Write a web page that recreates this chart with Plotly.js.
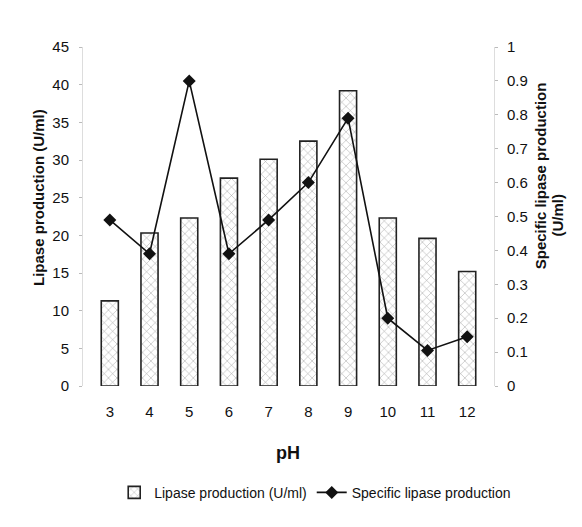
<!DOCTYPE html>
<html>
<head>
<meta charset="utf-8">
<script src="https://cdn.plot.ly/plotly-3.0.1.min.js"></script>
<style>html,body{margin:0;padding:0;background:#fff;}#chart{width:582px;height:527px;}</style>
</head>
<body>
<div id="chart"></div>
<script>
var phLabels = ["3","4","5","6","7","8","9","10","11","12"];
var lipaseProduction = [11.3, 20.3, 22.3, 27.6, 30.1, 32.5, 39.2, 22.3, 19.6, 15.2];
var specificProduction = [0.49, 0.39, 0.90, 0.39, 0.49, 0.60, 0.79, 0.20, 0.105, 0.145];
var leftTicks = [0,5,10,15,20,25,30,35,40,45];
var rightTicks = [0,0.1,0.2,0.3,0.4,0.5,0.6,0.7,0.8,0.9,1];

var fontFam = "Liberation Sans, Arial, sans-serif";

var traces = [
  {
    type: "bar",
    name: "Lipase production (U/ml)",
    x: phLabels,
    y: lipaseProduction,
    marker: {
      color: "#ffffff",
      line: {color: "#222", width: 1.6},
      pattern: {shape: "x", fgcolor: "#9a9a9a", bgcolor: "#ffffff", size: 6, solidity: 0.15}
    },
    yaxis: "y"
  },
  {
    type: "scatter",
    mode: "lines+markers",
    name: "Specific lipase production",
    x: phLabels,
    y: specificProduction,
    line: {color: "#111", width: 1.6},
    marker: {symbol: "diamond", size: 10, color: "#111"},
    yaxis: "y2"
  }
];

var layout = {
  width: 582,
  height: 527,
  margin: {l: 83, r: 88, t: 47, b: 141},
  paper_bgcolor: "#fff",
  plot_bgcolor: "#fff",
  font: {family: fontFam, size: 14, color: "#111"},
  bargap: 0.57,
  showlegend: true,
  legend: {
    orientation: "h",
    x: 0.565, xanchor: "center",
    y: -0.315, yanchor: "middle",
    font: {family: fontFam, size: 14, color: "#111"},
    itemwidth: 30,
    tracegroupgap: 0
  },
  xaxis: {
    type: "category",
    showgrid: false,
    zeroline: false,
    showline: false,
    ticks: "",
    tickfont: {family: fontFam, size: 15},
    ticklabelstandoff: 15,
    title: {text: ""}
  },
  yaxis: {
    range: [0, 45],
    tickvals: leftTicks,
    ticktext: leftTicks.map(String),
    showgrid: false,
    zeroline: false,
    showline: true,
    linecolor: "#dddddd",
    linewidth: 1,
    ticks: "outside",
    ticklen: 3,
    tickcolor: "#bbbbbb",
    tickfont: {family: fontFam, size: 15},
    ticklabelstandoff: 7
  },
  yaxis2: {
    range: [0, 1],
    overlaying: "y",
    side: "right",
    tickvals: rightTicks,
    ticktext: rightTicks.map(String),
    showgrid: false,
    zeroline: false,
    showline: true,
    linecolor: "#dddddd",
    linewidth: 1,
    ticks: "outside",
    ticklen: 3,
    tickcolor: "#bbbbbb",
    tickfont: {family: fontFam, size: 15},
    ticklabelstandoff: 6
  },
  annotations: [
    {
      text: "<b>Lipase production (U/ml)</b>",
      xref: "paper", yref: "paper",
      x: -0.11, y: 0.557, xanchor: "center", yanchor: "middle",
      textangle: -90, showarrow: false,
      font: {family: fontFam, size: 15, color: "#111"}
    },
    {
      text: "<b>Specific lipase production</b>",
      xref: "paper", yref: "paper",
      x: 1.113, y: 0.62, xanchor: "center", yanchor: "middle",
      textangle: -90, showarrow: false,
      font: {family: fontFam, size: 15, color: "#111"}
    },
    {
      text: "<b>(U/ml)</b>",
      xref: "paper", yref: "paper",
      x: 1.155, y: 0.505, xanchor: "center", yanchor: "middle",
      textangle: -90, showarrow: false,
      font: {family: fontFam, size: 15, color: "#111"}
    },
    {
      text: "<b>pH</b>",
      xref: "paper", yref: "paper",
      x: 0.498, y: -0.198, xanchor: "center", yanchor: "middle",
      showarrow: false,
      font: {family: fontFam, size: 18, color: "#111"}
    }
  ]
};

Plotly.newPlot("chart", traces, layout, {displayModeBar: false, staticPlot: true});
</script>
</body>
</html>
